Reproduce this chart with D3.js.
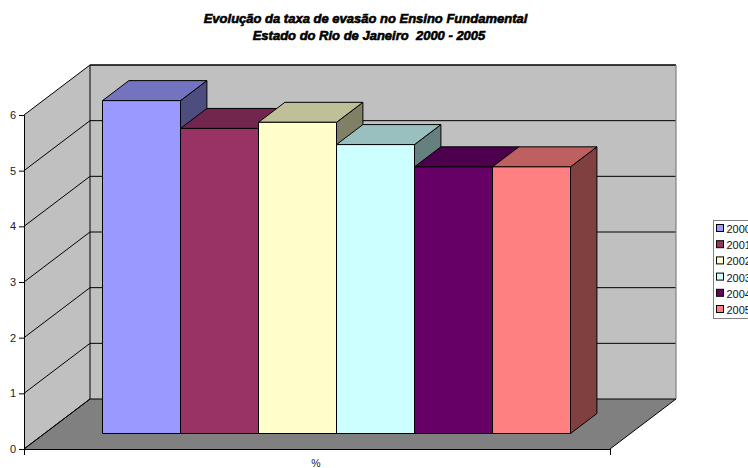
<!DOCTYPE html>
<html>
<head>
<meta charset="utf-8">
<script src="https://cdn.jsdelivr.net/npm/d3@7"></script>
<style>
html, body { margin: 0; padding: 0; background: #fff; overflow: hidden; }
svg { display: block; }
text { font-family: "Liberation Sans", Arial, sans-serif; }
</style>
</head>
<body>
<svg id="chart" width="748" height="468"></svg>
<script>
const years = ["2000", "2001", "2002", "2003", "2004", "2005"];
const values = [5.98, 5.48, 5.59, 5.19, 4.79, 4.79];
const colors = ["#9999ff", "#993366", "#ffffcc", "#ccffff", "#660066", "#ff8080"];
const yTicks = [0, 1, 2, 3, 4, 5, 6];
const titleLines = ["Evolução da taxa de evasão no Ensino Fundamental", "Estado do Rio de Janeiro  2000 - 2005"];
const categoryLabel = "%";

const svg = d3.select("#chart");

// plot box, the wall is the front face pushed back by depthX/depthY
const plotLeft = 24, plotRight = 610, plotBottom = 449, plotTop = 115;
const depthX = 66, depthY = 50;

const y = d3.scaleLinear().domain([0, 6]).range([plotBottom, plotTop]);
const x = d3.scaleBand().domain(years).range([102.5, 570.5]);

// bars sit about a third of the way into the floor
const barDepth = 0.4;
const barShiftY = 15.5;
const barDx = depthX * barDepth, barDy = depthY * barDepth;

function shade(c, k) {
    const col = d3.rgb(c);
    return d3.rgb(col.r * k, col.g * k, col.b * k).formatHex();
}

function poly(pts, fill, stroke, sw) {
    return svg.append("polygon")
        .attr("points", pts.map(p => p.join(",")).join(" "))
        .attr("fill", fill)
        .attr("stroke", stroke || "#000")
        .attr("stroke-width", sw || 1)
        .attr("stroke-linejoin", "round");
}

// walls and floor
poly([[plotLeft + depthX, plotTop - depthY], [plotRight + depthX, plotTop - depthY], [plotRight + depthX, plotBottom - depthY], [plotLeft + depthX, plotBottom - depthY]], "#c0c0c0", "none");
poly([[plotLeft, plotTop], [plotLeft + depthX, plotTop - depthY], [plotLeft + depthX, plotBottom - depthY], [plotLeft, plotBottom]], "#c0c0c0", "none");
poly([[plotLeft, plotBottom], [plotLeft + depthX, plotBottom - depthY], [plotRight + depthX, plotBottom - depthY], [plotRight, plotBottom]], "#808080", "none");

// gridlines along side wall and back wall
svg.selectAll("path.grid")
    .data(yTicks)
    .enter()
    .append("path")
    .attr("class", "grid")
    .attr("d", d => `M${plotLeft},${y(d)}L${plotLeft + depthX},${y(d) - depthY}L${plotRight + depthX},${y(d) - depthY}`)
    .attr("fill", "none")
    .attr("stroke", "#000")
    .attr("stroke-width", 1);

// outlines
svg.append("path")
    .attr("d", `M${plotLeft + depthX},${plotBottom - depthY}V${plotTop - depthY}H${plotRight + depthX}`)
    .attr("fill", "none").attr("stroke", "#000");
svg.append("path")
    .attr("d", `M${plotRight + depthX},${plotTop - depthY}V${plotBottom - depthY}`)
    .attr("fill", "none").attr("stroke", "#808080").attr("stroke-width", 1.2);
svg.append("path")
    .attr("d", `M${plotLeft},${plotBottom}L${plotLeft + depthX},${plotBottom - depthY}`)
    .attr("fill", "none").attr("stroke", "#000");
svg.append("path")
    .attr("d", `M${plotRight},${plotBottom}L${plotRight + depthX},${plotBottom - depthY}`)
    .attr("fill", "none").attr("stroke", "#000");

// bars, left to right so later ones cover the earlier side faces
years.forEach((yr, i) => {
    const x0 = x(yr), x1 = x0 + x.bandwidth();
    const b = plotBottom - barShiftY;
    const t = y(values[i]) - barShiftY;
    const c = colors[i];
    poly([[x1, b], [x1 + barDx, b - barDy], [x1 + barDx, t - barDy], [x1, t]], shade(c, 0.5));
    poly([[x0, t], [x0 + barDx, t - barDy], [x1 + barDx, t - barDy], [x1, t]], shade(c, 0.75));
    poly([[x0, t], [x1, t], [x1, b], [x0, b]], c);
});

// axes
const yAxis = d3.axisLeft(y).tickValues(yTicks).tickFormat(d3.format("d")).tickSize(5).tickPadding(3);
const yG = svg.append("g").attr("transform", `translate(${plotLeft},0)`).call(yAxis);
yG.selectAll("text").attr("font-size", 11).attr("font-family", "Liberation Sans").attr("fill", "#222");
yG.selectAll("line").attr("stroke", "#000");
yG.select(".domain").attr("stroke", "#000");

const xAxis = d3.axisBottom(d3.scaleLinear().domain([0, 1]).range([plotLeft, plotRight])).tickValues([0, 1]).tickFormat("").tickSize(6);
const xG = svg.append("g").attr("transform", `translate(0,${plotBottom})`).call(xAxis);
xG.selectAll("line").attr("stroke", "#000");
xG.select(".domain").attr("stroke", "#000");

svg.append("text")
    .attr("x", (plotLeft + plotRight) / 2 - 1)
    .attr("y", 467)
    .attr("text-anchor", "middle")
    .attr("font-size", 10.5)
    .attr("fill", "#222")
    .text(categoryLabel);

// title
svg.selectAll("text.title")
    .data(titleLines)
    .enter()
    .append("text")
    .attr("class", "title")
    .attr("x", (d, i) => i === 0 ? 365.5 : 369)
    .attr("y", (d, i) => 22.5 + i * 17)
    .attr("text-anchor", "middle")
    .attr("font-size", 13)
    .attr("font-weight", "bold")
    .attr("font-style", "italic")
    .attr("stroke", "#000")
    .attr("stroke-width", 0.6)
    .style("white-space", "pre")
    .text(d => d);

// legend, runs off the right edge like the original
const legend = svg.append("g").attr("transform", "translate(713.5,220.5)");
legend.append("rect")
    .attr("width", 60).attr("height", 98)
    .attr("fill", "#fff").attr("stroke", "#808080").attr("stroke-width", 1);
const rows = legend.selectAll("g")
    .data(years)
    .enter()
    .append("g")
    .attr("transform", (d, i) => `translate(3,${4 + i * 16.2})`);
rows.append("rect")
    .attr("width", 7).attr("height", 7)
    .attr("fill", (d, i) => colors[i])
    .attr("stroke", "#000");
rows.append("text")
    .attr("x", 10).attr("y", 8.5)
    .attr("font-size", 11)
    .attr("fill", "#111")
    .text(d => d);
</script>
</body>
</html>
